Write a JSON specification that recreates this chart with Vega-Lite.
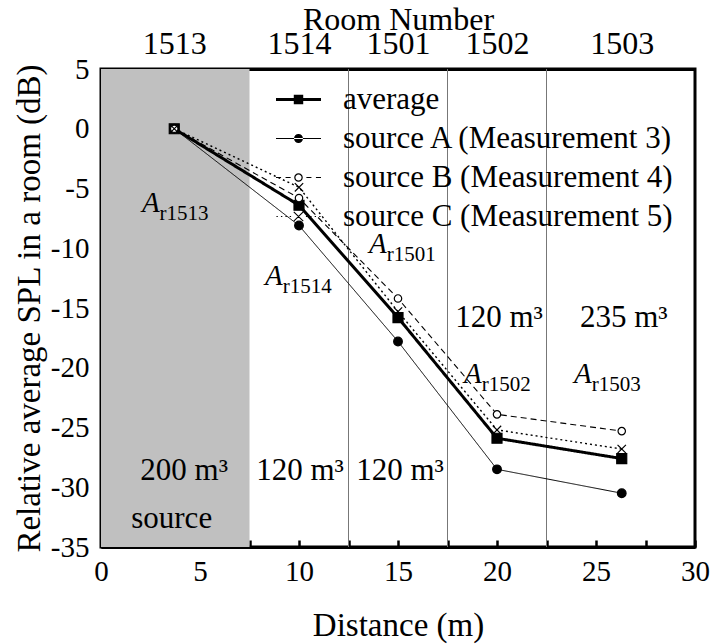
{
  "$schema": "https://vega.github.io/schema/vega-lite/v6.json",
  "width": 594,
  "height": 478,
  "autosize": "none",
  "padding": {"left": 101, "top": 69, "right": 17, "bottom": 97},
  "config": {
    "font": "Liberation Serif",
    "view": {"stroke": "black", "strokeWidth": 3},
    "axis": {"grid": false, "labelFont": "Liberation Serif", "titleFont": "Liberation Serif", "labelColor": "black", "titleColor": "black", "tickColor": "black", "domainColor": "black", "titleFontWeight": "normal", "zindex": 1, "labelOverlap": false, "labelFlush": false},
    "axisY": {"tickSize": -7, "tickWidth": 2.5, "domain": true, "domainWidth": 3, "labelFontSize": 29, "labelPadding": 19, "titleFontSize": 33, "titlePadding": 4},
    "legend": {"orient": "none", "legendX": 182, "legendY": 15, "padding": 0, "labelFont": "Liberation Serif", "labelFontSize": 31, "labelColor": "black", "symbolSize": 506, "labelOffset": 29, "rowPadding": 7, "labelLimit": 0, "symbolFillColor": "black", "symbolStrokeColor": "black", "symbolStrokeWidth": 0}
  },
  "datasets": {
    "series": [
      {"dist": 3.7, "spl": 0, "series": "average"},
      {"dist": 10, "spl": -6.4, "series": "average"},
      {"dist": 15, "spl": -15.8, "series": "average"},
      {"dist": 20, "spl": -25.9, "series": "average"},
      {"dist": 26.3, "spl": -27.6, "series": "average"},
      {"dist": 3.7, "spl": 0, "series": "source A (Measurement 3)"},
      {"dist": 10, "spl": -8.1, "series": "source A (Measurement 3)"},
      {"dist": 15, "spl": -17.8, "series": "source A (Measurement 3)"},
      {"dist": 20, "spl": -28.5, "series": "source A (Measurement 3)"},
      {"dist": 26.3, "spl": -30.5, "series": "source A (Measurement 3)"},
      {"dist": 3.7, "spl": 0, "series": "source B (Measurement 4)"},
      {"dist": 10, "spl": -5.8, "series": "source B (Measurement 4)"},
      {"dist": 15, "spl": -14.2, "series": "source B (Measurement 4)"},
      {"dist": 20, "spl": -23.9, "series": "source B (Measurement 4)"},
      {"dist": 26.3, "spl": -25.3, "series": "source B (Measurement 4)"},
      {"dist": 3.7, "spl": 0, "series": "source C (Measurement 5)"},
      {"dist": 10, "spl": -4.9, "series": "source C (Measurement 5)"},
      {"dist": 15, "spl": -15.3, "series": "source C (Measurement 5)"},
      {"dist": 20, "spl": -25.2, "series": "source C (Measurement 5)"},
      {"dist": 26.3, "spl": -26.8, "series": "source C (Measurement 5)"}
    ],
    "zones": [{"from": 0, "to": 7.5}],
    "walls": [{"wall": 12.5}, {"wall": 17.5}, {"wall": 22.5}],
    "subs": [
      {"x": 2.96, "y": -7.0, "main": "A", "sub": "r1513"},
      {"x": 9.18, "y": -13.1, "main": "A", "sub": "r1514"},
      {"x": 14.43, "y": -10.4, "main": "A", "sub": "r1501"},
      {"x": 19.23, "y": -21.3, "main": "A", "sub": "r1502"},
      {"x": 24.78, "y": -21.3, "main": "A", "sub": "r1503"}
    ],
    "vols": [
      {"x": 4.2, "y": -29.4, "label": "200 m³"},
      {"x": 10.05, "y": -29.4, "label": "120 m³"},
      {"x": 15.1, "y": -29.4, "label": "120 m³"},
      {"x": 20.1, "y": -16.6, "label": "120 m³"},
      {"x": 26.4, "y": -16.6, "label": "235 m³"},
      {"x": 3.57, "y": -33.4, "label": "source"}
    ]
  },
  "layer": [
    {
      "data": {"name": "zones"},
      "mark": {"type": "rect", "color": "#c0c0c0"},
      "encoding": {
        "x": {"field": "from", "type": "quantitative", "scale": {"domain": [0, 30], "nice": false, "zero": false},
          "axis": {"orient": "top", "values": [3.7, 10, 15, 20, 26.3], "labelExpr": "datum.value < 5 ? '1513' : datum.value < 12 ? '1514' : datum.value < 17 ? '1501' : datum.value < 22 ? '1502' : '1503'", "ticks": false, "domain": true, "domainWidth": 3, "labelFontSize": 32, "labelPadding": 9, "title": "Room Number", "titleFontSize": 32, "titlePadding": -9}},
        "x2": {"field": "to"}
      }
    },
    {
      "data": {"name": "walls"},
      "mark": {"type": "rule", "color": "#777777", "strokeWidth": 1},
      "encoding": {"x": {"field": "wall", "type": "quantitative", "axis": null}}
    },
    {
      "data": {"name": "series"},
      "mark": {"type": "line", "color": "black"},
      "encoding": {
        "x": {"field": "dist", "type": "quantitative",
          "axis": {"orient": "bottom", "values": [0, 2.5, 5, 7.5, 10, 12.5, 15, 17.5, 20, 22.5, 25, 27.5, 30], "labelExpr": "datum.value % 5 == 0 ? toString(datum.value) : ''", "tickSize": -7, "tickWidth": 2.5, "domain": true, "domainWidth": 3, "labelFontSize": 29, "labelPadding": 17, "title": "Distance (m)", "titleFontSize": 33, "titlePadding": 23}},
        "y": {"field": "spl", "type": "quantitative", "scale": {"domain": [-35, 5], "nice": false, "zero": false},
          "axis": {"orient": "left", "values": [-35, -32.5, -30, -27.5, -25, -22.5, -20, -17.5, -15, -12.5, -10, -7.5, -5, -2.5, 0, 2.5, 5], "labelExpr": "datum.value % 5 == 0 ? toString(datum.value) : ''", "title": "Relative average SPL in a room (dB)"}},
        "strokeDash": {"field": "series", "type": "nominal", "scale": {"domain": ["average", "source A (Measurement 3)", "source B (Measurement 4)", "source C (Measurement 5)"], "range": [[1, 0], [1, 0], [6, 4], [2, 3]]}, "legend": null},
        "strokeWidth": {"field": "series", "type": "nominal", "scale": {"type": "ordinal", "domain": ["average", "source A (Measurement 3)", "source B (Measurement 4)", "source C (Measurement 5)"], "range": [3, 1, 1.1, 1.4]}, "legend": null}
      }
    },
    {
      "data": {"name": "series"},
      "mark": {"type": "point", "stroke": "black", "strokeWidth": 1.2, "opacity": 1},
      "encoding": {
        "x": {"field": "dist", "type": "quantitative", "axis": null},
        "y": {"field": "spl", "type": "quantitative",
          "axis": {"orient": "left", "values": [-35, -32.5, -30, -27.5, -25, -22.5, -20, -17.5, -15, -12.5, -10, -7.5, -5, -2.5, 0, 2.5, 5], "labelExpr": "datum.value % 5 == 0 ? toString(datum.value) : ''", "title": "Relative average SPL in a room (dB)"}},
        "shape": {"field": "series", "type": "nominal", "scale": {"domain": ["average", "source A (Measurement 3)", "source B (Measurement 4)", "source C (Measurement 5)"], "range": ["square", "circle", "circle", "M-1,-1L1,1M-1,1L1,-1"]}, "legend": null},
        "fill": {"field": "series", "type": "nominal", "scale": {"domain": ["average", "source A (Measurement 3)", "source B (Measurement 4)", "source C (Measurement 5)"], "range": ["black", "black", "white", "transparent"]}, "legend": null},
        "size": {"field": "series", "type": "nominal", "scale": {"type": "ordinal", "domain": ["average", "source A (Measurement 3)", "source B (Measurement 4)", "source C (Measurement 5)"], "range": [100, 75, 55, 70]}, "legend": null}
      }
    },
    {
      "data": {"name": "series"},
      "mark": {"type": "point", "filled": true, "color": "black", "opacity": 0},
      "encoding": {
        "x": {"field": "dist", "type": "quantitative", "axis": null},
        "y": {"field": "spl", "type": "quantitative",
          "axis": {"orient": "left", "values": [-35, -32.5, -30, -27.5, -25, -22.5, -20, -17.5, -15, -12.5, -10, -7.5, -5, -2.5, 0, 2.5, 5], "labelExpr": "datum.value % 5 == 0 ? toString(datum.value) : ''", "title": "Relative average SPL in a room (dB)"}},
        "shape": {"field": "series", "type": "nominal", "scale": {"domain": ["average", "source A (Measurement 3)", "source B (Measurement 4)", "source C (Measurement 5)"], "range": [
          "M-2,-0.13H2V0.13H-2ZM-0.42,-0.42H0.42V0.42H-0.42Z",
          "M-2,-0.05H2V0.05H-2ZM-0.4,0A0.4,0.4,0,1,0,0.4,0A0.4,0.4,0,1,0,-0.4,0Z",
          "M-2,-0.05H-1.55V0.05H-2ZM-1.15,-0.05H-0.7V0.05H-1.15ZM0.7,-0.05H1.15V0.05H0.7ZM1.55,-0.05H2V0.05H1.55ZM-0.38,0A0.38,0.38,0,1,0,0.38,0A0.38,0.38,0,1,0,-0.38,0ZM-0.27,0A0.27,0.27,0,1,1,0.27,0A0.27,0.27,0,1,1,-0.27,0Z",
          "M-1.96,-0.05H-1.84V0.05H-1.96ZM-1.56,-0.05H-1.44V0.05H-1.56ZM-1.16,-0.05H-1.04V0.05H-1.16ZM-0.78,-0.05H-0.66V0.05H-0.78ZM0.66,-0.05H0.78V0.05H0.66ZM1.04,-0.05H1.16V0.05H1.04ZM1.44,-0.05H1.56V0.05H1.44ZM1.84,-0.05H1.96V0.05H1.84ZM-0.455,-0.385L0.385,0.455L0.455,0.385L-0.385,-0.455ZM-0.455,0.385L-0.385,0.455L0.455,-0.385L0.385,-0.455Z"
        ]}, "legend": {"title": null}}
      }
    },
    {
      "data": {"name": "subs"},
      "mark": {"type": "text", "fontStyle": "italic", "fontSize": 29, "align": "right", "baseline": "alphabetic", "color": "black"},
      "encoding": {
        "x": {"field": "x", "type": "quantitative", "axis": null},
        "y": {"field": "y", "type": "quantitative",
          "axis": {"orient": "left", "values": [-35, -32.5, -30, -27.5, -25, -22.5, -20, -17.5, -15, -12.5, -10, -7.5, -5, -2.5, 0, 2.5, 5], "labelExpr": "datum.value % 5 == 0 ? toString(datum.value) : ''", "title": "Relative average SPL in a room (dB)"}},
        "text": {"field": "main"}
      }
    },
    {
      "data": {"name": "subs"},
      "mark": {"type": "text", "fontSize": 21, "align": "left", "baseline": "alphabetic", "dy": 8, "color": "black"},
      "encoding": {
        "x": {"field": "x", "type": "quantitative", "axis": null},
        "y": {"field": "y", "type": "quantitative",
          "axis": {"orient": "left", "values": [-35, -32.5, -30, -27.5, -25, -22.5, -20, -17.5, -15, -12.5, -10, -7.5, -5, -2.5, 0, 2.5, 5], "labelExpr": "datum.value % 5 == 0 ? toString(datum.value) : ''", "title": "Relative average SPL in a room (dB)"}},
        "text": {"field": "sub"}
      }
    },
    {
      "data": {"name": "vols"},
      "mark": {"type": "text", "fontSize": 31, "align": "center", "baseline": "alphabetic", "color": "black"},
      "encoding": {
        "x": {"field": "x", "type": "quantitative", "axis": null},
        "y": {"field": "y", "type": "quantitative",
          "axis": {"orient": "left", "values": [-35, -32.5, -30, -27.5, -25, -22.5, -20, -17.5, -15, -12.5, -10, -7.5, -5, -2.5, 0, 2.5, 5], "labelExpr": "datum.value % 5 == 0 ? toString(datum.value) : ''", "title": "Relative average SPL in a room (dB)"}},
        "text": {"field": "label"}
      }
    }
  ],
  "resolve": {"axis": {"x": "independent"}, "scale": {"shape": "independent"}}
}
